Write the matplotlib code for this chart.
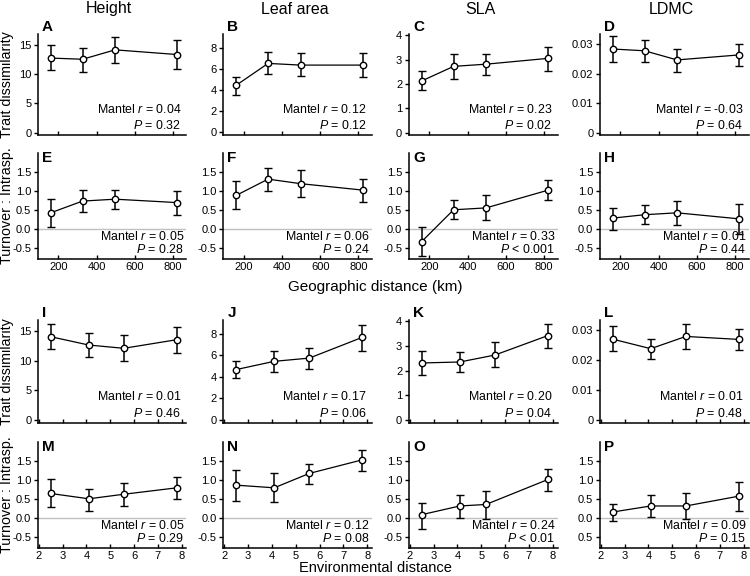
import numpy as np
import matplotlib
matplotlib.use("Agg")
import matplotlib.pyplot as plt

plt.rcParams['font.family'] = ['Liberation Sans', 'DejaVu Sans']
plt.rcParams['mathtext.fontset'] = 'custom'
plt.rcParams['mathtext.rm'] = 'Liberation Sans'
plt.rcParams['mathtext.it'] = 'Liberation Sans:italic'

# columnas / filas
traits = ["Height", "Leaf area", "SLA", "LDMC"]
letters = ["ABCD", "EFGH", "IJKL", "MNOP"]

geo_x = [160, 327, 497, 823]
env_x = [2.5, 4.1, 5.57, 7.8]
env_x_O = [2.5, 4.1, 5.2, 7.8]

# fila 1: disimilitud vs distancia geografica (media, limite inferior, superior)
A_mean = [12.7, 12.5, 14.1, 13.3]; A_lo = [10.6, 10.4, 11.9, 10.9]; A_hi = [14.85, 14.5, 16.3, 15.8]
B_mean = [4.45, 6.52, 6.36, 6.36]; B_lo = [3.54, 5.49, 5.3, 5.2]; B_hi = [5.23, 7.62, 7.46, 7.49]
C_mean = [2.12, 2.72, 2.81, 3.05]; C_lo = [1.73, 2.19, 2.38, 2.53]; C_hi = [2.51, 3.22, 3.22, 3.51]
D_mean = [0.0284, 0.0278, 0.0247, 0.0264]; D_lo = [0.0239, 0.0239, 0.0206, 0.0225]; D_hi = [0.0327, 0.0316, 0.0283, 0.0300]
# fila 2: turnover : intrasp. vs distancia geografica
E_mean = [0.42, 0.73, 0.78, 0.69]; E_lo = [0.05, 0.44, 0.53, 0.37]; E_hi = [0.79, 1.01, 1.02, 0.99]
F_mean = [0.88, 1.31, 1.19, 1.02]; F_lo = [0.51, 1.00, 0.84, 0.71]; F_hi = [1.26, 1.60, 1.55, 1.32]
G_mean = [-0.34, 0.50, 0.55, 1.02]; G_lo = [-0.72, 0.25, 0.22, 0.76]; G_hi = [0.05, 0.76, 0.89, 1.29]
H_mean = [0.28, 0.37, 0.42, 0.26]; H_lo = [-0.035, 0.13, 0.11, -0.14]; H_hi = [0.55, 0.62, 0.73, 0.65]
# fila 3: disimilitud vs distancia ambiental
I_mean = [14.0, 12.6, 12.05, 13.5]; I_lo = [11.9, 10.6, 9.9, 11.2]; I_hi = [16.2, 14.7, 14.2, 15.7]
J_mean = [4.68, 5.45, 5.75, 7.69]; J_lo = [3.85, 4.46, 4.77, 6.4]; J_hi = [5.48, 6.4, 6.71, 8.83]
K_mean = [2.31, 2.35, 2.63, 3.42]; K_lo = [1.83, 1.94, 2.13, 2.92]; K_hi = [2.78, 2.75, 3.14, 3.89]
L_mean = [0.0271, 0.0239, 0.0280, 0.0270]; L_lo = [0.0230, 0.0205, 0.0239, 0.0233]; L_hi = [0.0316, 0.0271, 0.0321, 0.0306]
# fila 4: turnover : intrasp. vs distancia ambiental
M_mean = [0.64, 0.50, 0.62, 0.79]; M_lo = [0.28, 0.19, 0.31, 0.49]; M_hi = [1.01, 0.77, 0.92, 1.08]
N_mean = [0.86, 0.79, 1.17, 1.53]; N_lo = [0.44, 0.41, 0.90, 1.24]; N_hi = [1.26, 1.18, 1.43, 1.79]
O_mean = [0.08, 0.31, 0.35, 1.01]; O_lo = [-0.29, -0.02, -0.03, 0.71]; O_hi = [0.40, 0.59, 0.71, 1.28]
P_mean = [0.15, 0.31, 0.31, 0.57]; P_lo = [-0.09, 0.03, -0.03, 0.19]; P_hi = [0.37, 0.60, 0.65, 0.95]

mantel_r = ["0.04", "0.12", "0.23", "-0.03",
            "0.05", "0.06", "0.33", "0.01",
            "0.01", "0.17", "0.20", "0.01",
            "0.05", "0.12", "0.24", "0.09"]
mantel_p = ["= 0.32", "= 0.12", "= 0.02", "= 0.64",
            "= 0.28", "= 0.24", "< 0.001", "= 0.44",
            "= 0.46", "= 0.06", "= 0.04", "= 0.48",
            "= 0.29", "= 0.08", "< 0.01", "= 0.15"]

data = [[(A_mean, A_lo, A_hi), (B_mean, B_lo, B_hi), (C_mean, C_lo, C_hi), (D_mean, D_lo, D_hi)],
        [(E_mean, E_lo, E_hi), (F_mean, F_lo, F_hi), (G_mean, G_lo, G_hi), (H_mean, H_lo, H_hi)],
        [(I_mean, I_lo, I_hi), (J_mean, J_lo, J_hi), (K_mean, K_lo, K_hi), (L_mean, L_lo, L_hi)],
        [(M_mean, M_lo, M_hi), (N_mean, N_lo, N_hi), (O_mean, O_lo, O_hi), (P_mean, P_lo, P_hi)]]

# ejes y de la fila de disimilitud, por rasgo
dis_ticks = [[0, 5, 10, 15], [0, 2, 4, 6, 8], [0, 1, 2, 3, 4], [0, 0.01, 0.02, 0.03]]
dis_labels = [["0", "5", "10", "15"], ["0", "2", "4", "6", "8"], ["0", "1", "2", "3", "4"],
              ["0", "0.01", "0.02", "0.03"]]
dis_lims = [(-0.4, 16.8), (-0.25, 9.3), (-0.1, 4.05), (-0.0008, 0.0335)]
turn_ticks = [-0.5, 0.0, 0.5, 1.0, 1.5]
turn_labels = ["-0.5", "0.0", "0.5", "1.0", "1.5"]

W, H = 750, 576
fig = plt.figure(figsize=(7.5, 5.76), dpi=100)

col_left = [37.5, 223, 408.5, 599.5]
col_w = 149
row_top = [34, 153, 320, 442]
row_bot = [135, 259, 422.5, 548]

for i in range(4):
	for j in range(4):
		k = i * 4 + j
		ax = fig.add_axes([col_left[j] / W, 1 - row_bot[i] / H, col_w / W, (row_bot[i] - row_top[i]) / H])
		mean, lo, hi = data[i][j]
		mean = np.array(mean); lo = np.array(lo); hi = np.array(hi)
		if i < 2:
			x = geo_x
		elif k == 14:
			x = env_x_O
		else:
			x = env_x
		if i % 2 == 1:
			ax.axhline(0, color="#c0c0c0", lw=1.0, zorder=0)
		ax.errorbar(x, mean, yerr=[mean - lo, hi - mean], fmt="-o", color="black", lw=0.9,
					elinewidth=1.1, capsize=2.8, capthick=1.1, ms=4.6, mfc="white", mec="black", mew=1.0)
		ax.spines["top"].set_visible(False)
		ax.spines["right"].set_visible(False)
		for s in ["left", "bottom"]:
			ax.spines[s].set_linewidth(1.1)
		# eje x
		if i < 2:
			ax.set_xlim(91, 871)
			ax.set_xticks([200, 400, 600, 800])
		else:
			ax.set_xlim(1.95, 8.2)
			ax.set_xticks([2, 3, 4, 5, 6, 7, 8])
		if i % 2 == 0:
			ax.set_xticklabels([])
		# eje y
		if i % 2 == 0:
			ax.set_ylim(*dis_lims[j])
			ax.set_yticks(dis_ticks[j])
			ax.set_yticklabels(dis_labels[j])
		else:
			ax.set_ylim(-0.8, 2.0)
			ax.set_yticks(turn_ticks)
			lab = list(turn_labels)
			if k == 15:
				lab[0] = "0.5"  # asi aparece en la figura original
			ax.set_yticklabels(lab)
		ax.tick_params(axis="x", direction="in", length=3, width=1.0, labelsize=8, pad=2)
		ax.tick_params(axis="y", direction="out", length=3, width=1.0, labelsize=8, pad=1.5)
		# letra del panel
		if i % 2 == 0:
			ax.text(0.03, 1.0, letters[i][j], transform=ax.transAxes, fontsize=11,
					fontweight="bold", va="bottom", ha="left")
		else:
			ax.text(0.03, 1.02, letters[i][j], transform=ax.transAxes, fontsize=11,
					fontweight="bold", va="top", ha="left")
		xr = 0.965 if i % 2 == 0 else 0.985
		ax.text(xr, 0.25 if i % 2 == 0 else 0.21, "Mantel $r$ = " + mantel_r[k],
				transform=ax.transAxes, ha="right", va="center", fontsize=8.9)
		ax.text(xr, 0.09, "$P$ " + mantel_p[k], transform=ax.transAxes,
				ha="right", va="center", fontsize=8.9)
		if i == 0:
			fig.text((col_left[j] + col_w / 2 - 3) / W, 1 - 9 / H, traits[j],
					 ha="center", va="center", fontsize=11.5)

# etiquetas de los ejes
for i in range(4):
	yc = 1 - (row_top[i] + row_bot[i]) / 2 / H
	fig.text(7 / W, yc, "Trait dissimilarity" if i % 2 == 0 else "Turnover : Intrasp.",
			 rotation=90, ha="center", va="center", fontsize=10.3)
fig.text(0.5, 1 - 287 / H, "Geographic distance (km)", ha="center", va="center", fontsize=11)
fig.text(0.5, 0.5 / H, "Environmental distance", ha="center", va="bottom", fontsize=10.5)

fig.savefig("out.png", dpi=100)
